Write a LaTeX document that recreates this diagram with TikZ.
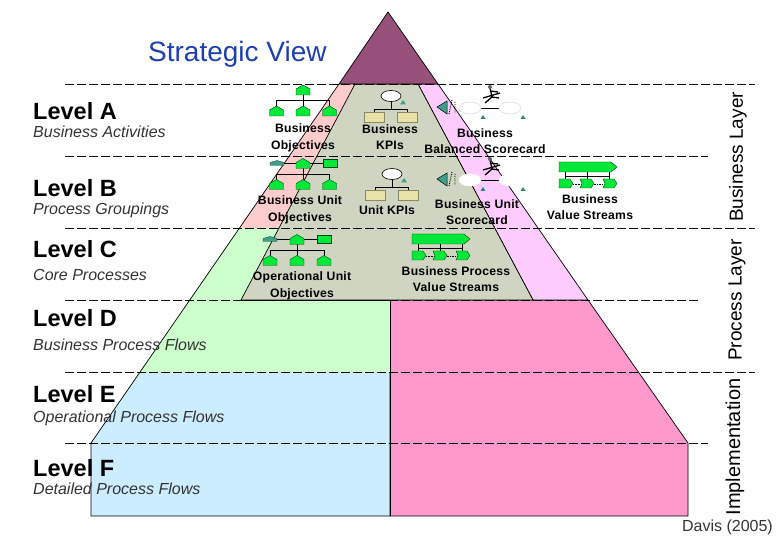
\documentclass[tikz,border=0pt]{standalone}
\usepackage{fontspec}
\setmainfont{Liberation Sans}
\usetikzlibrary{positioning}
\definecolor{topPurple}{HTML}{96507A}
\definecolor{coreGray}{HTML}{CFD5C0}
\definecolor{leftPink}{HTML}{FFCCCC}
\definecolor{rightViolet}{HTML}{FFCCFF}
\definecolor{midGreen}{HTML}{CCFFCC}
\definecolor{lowBlue}{HTML}{CCECFF}
\definecolor{hotPink}{HTML}{FF99CC}
\definecolor{viewBlue}{HTML}{1F3FB0}
\definecolor{iconGreen}{HTML}{00E838}
\definecolor{iconTan}{HTML}{E6E2A8}
\definecolor{iconTeal}{HTML}{3FA08A}
\tikzset{
	band/.style={draw=black, line width=0.7pt},
	sep/.style={line width=0.9pt, dash pattern=on 8.5pt off 3.5pt},
	levelname/.style={anchor=west, inner sep=0pt, font=\fontsize{23.5}{26}\selectfont\bfseries},
	levelnote/.style={anchor=base west, inner sep=0pt, text=black!80, font=\fontsize{16}{18}\selectfont\itshape},
	labe/.style={align=center, inner sep=0pt, font=\fontsize{12.2}{16.5}\selectfont\bfseries\addfontfeature{LetterSpace=2}},
	sidelabe/.style={rotate=90, inner sep=0pt, font=\fontsize{19}{22}\selectfont},
	iconline/.style={draw=black, line width=0.7pt},
	hutbox/.style={fill=iconGreen, draw=black!70!iconGreen, line width=0.4pt},
	pics/hut/.style={code={
		\path[hutbox] (-7,5) -- (-7,-1) -- (0,-5) -- (7,-1) -- (7,5) -- cycle;
	}},
	pics/orgtree/.style={code={
		\draw[iconline] (0,0) -- (0,10.5) (-#1,17) -- (-#1,10.5) -- (#1,10.5) -- (#1,17) (0,10.5) -- (0,17);
		\pic at (0,0) {hut};
		\pic at (-#1,21) {hut};
		\pic at (0,21) {hut};
		\pic at (#1,21) {hut};
	}},
	pics/orgside/.style={code={
		\draw[iconline] (-20,0) -- (20,0);
		\path[fill=iconTeal, draw=black!60!iconTeal, line width=0.3pt] (-#1-7,2) -- (-#1-7,-1) -- (-#1,-3) -- (-#1+7,-1) -- (-#1+7,2) -- cycle;
		\path[hutbox] (20,-4) rectangle (34,4);
	}},
	pics/kpitree/.style={code={
		\draw[iconline] (0,5) -- (0,13) (-17,16) -- (-17,13) -- (16,13) -- (16,16);
		\path[fill=white, draw=black, line width=0.6pt] (0,0) ellipse (10 and 5.5);
		\path[fill=iconTan, draw=black!40!iconTan, line width=0.4pt] (-27,16) rectangle (-7,26) (6,16) rectangle (26,26);
		\path[fill=iconTeal] (12,4) -- (15,8.5) -- (9,8.5) -- cycle;
	}},
	pics/scorecard/.style={code={
		\path[fill=iconTeal, draw=black, line width=0.5pt] (-10,0) -- (0,-6) -- (0,7) -- cycle;
		\draw[line width=0.9pt, densely dotted] (5,-7) -- (2,7) (8,-5) -- (8,6);
		\draw[iconline] (33,1) -- (53,1);
		\path[fill=white, draw=#1, line width=0.5pt] (23,1) ellipse (11 and 6) (63,1) ellipse (11 and 6);
		\draw[line width=1.3pt] (43,-19) -- (45,-10) -- (38,-4) (45,-10) -- (52,-9) (36,-9) -- (53,-14) (43,-16) -- (51,-15);
		\path[fill=black!60] (43,-20) circle (2);
		\path[fill=iconTeal!80!black] (36,8) -- (38.5,12) -- (33.5,12) -- cycle (76,8) -- (78.5,12) -- (73.5,12) -- cycle;
	}},
	pics/valuestream/.style={code={
		\draw[iconline] (6,10) -- (6,14) (28,10) -- (28,14) (50,10) -- (50,14) (6,14) -- (50,14) (6,14) -- (6,17) (28,14) -- (28,17) (50,14) -- (50,17);
		\path[hutbox] (0,0) -- (52,0) -- (58,5) -- (52,10) -- (0,10) -- cycle;
		\draw[line width=0.6pt, densely dotted] (14,22) -- (44,22);
		\path[hutbox] (0,17) -- (11,17) -- (14,21.5) -- (11,26) -- (0,26) -- cycle;
		\path[hutbox] (21,17) -- (32,17) -- (35,21.5) -- (32,26) -- (21,26) -- (23,21.5) -- cycle;
		\path[hutbox] (44,17) -- (55,17) -- (58,21.5) -- (55,26) -- (44,26) -- (46,21.5) -- cycle;
	}}
}

\begin{document}
\begin{tikzpicture}[x=1pt,y=-1pt]
\useasboundingbox (0,0) rectangle (780,540);

% pyramid, bottom up
\path[fill=lowBlue] (140,372) -- (390,372) -- (390,516) -- (91,516) -- (91,443) -- cycle;
\path[band,fill=hotPink] (390,300) -- (588,300) -- (688,443) -- (688,516) -- (390,516) -- cycle;
\path[fill=midGreen] (239,228) -- (279,228) -- (241,300) -- (390,300) -- (390,372) -- (140,372) -- cycle;
\path[fill=leftPink] (239,228) -- (339,84) -- (355,84) -- (279,228) -- cycle;
\draw[band] (339,84) -- (91,443) -- (91,516) -- (390,516);
\draw[band] (241,300) -- (390,300) -- (390,516);
\path[band,fill=rightViolet] (418,84) -- (438,84) -- (588,300) -- (533,300) -- cycle;
\path[band,fill=coreGray] (355,84) -- (418,84) -- (533,300) -- (241,300) -- cycle;
\path[band,fill=topPurple] (388,12) -- (438,84) -- (339,84) -- cycle;

% level separators
\foreach \ya/\xe in {84/755,156/708,228/755,300/700,372/755,443/708}
	\draw[sep] (65,\ya) -- (\xe,\ya);

\node(view)[anchor=west,inner sep=0pt,text=viewBlue,font=\fontsize{28}{30}\selectfont] at (148,54.5) {Strategic View};

\node(la)[levelname] at (33,111) {Level A};
\node(na)[levelnote] at (33,137.5) {Business Activities};
\node(lb)[levelname] at (33,188) {Level B};
\node(nb)[levelnote] at (33,214.5) {Process Groupings};
\node(lc)[levelname] at (33,249) {Level C};
\node(nc)[levelnote] at (33,280.5) {Core Processes};
\node(ld)[levelname] at (33,318) {Level D};
\node(nd)[levelnote] at (33,350.5) {Business Process Flows};
\node(le)[levelname] at (33,394) {Level E};
\node(ne)[levelnote] at (33,422.5) {Operational Process Flows};
\node(lf)[levelname] at (33,468) {Level F};
\node(nf)[levelnote] at (33,494.5) {Detailed Process Flows};

% icons
\pic at (303,90) {orgtree=26.5};
\pic at (303,163.5) {orgside=26};
\pic at (303,163.5) {orgtree=26.5};
\pic at (297,239.5) {orgside=27};
\pic at (297,239.5) {orgtree=27};
\pic at (391,96) {kpitree};
\pic at (392,174) {kpitree};
\pic at (447,107) {scorecard=black!15};
\pic at (447,179) {scorecard=white};
\pic at (559,162) {valuestream};
\pic at (412,234) {valuestream};

\node(bo)[labe] at (303,138) {Business\\Objectives};
\node(bk)[labe] at (390,137) {Business\\KPIs};
\node(bs)[labe] at (485,141) {Business\\Balanced Scorecard};
\node(uo)[labe] at (300,210) {Business Unit\\Objectives};
\node(uk)[labe] at (387,210) {Unit KPIs};
\node(us)[labe] at (477,212) {Business Unit\\Scorecard};
\node(vs)[labe] at (590,207) {Business\\Value Streams};
\node(oo)[labe] at (302,286) {Operational Unit\\Objectives};
\node(pv)[labe] at (456,279) {Business Process\\Value Streams};

\node(bl)[sidelabe] at (738,157) {Business Layer};
\node(pl)[sidelabe] at (737,300) {Process Layer};
\node(il)[sidelabe,font=\fontsize{20}{22}\selectfont] at (735,447) {Implementation};
\node(src)[anchor=east,inner sep=0pt,text=black!80,font=\fontsize{16}{18}\selectfont] at (773,527) {Davis (2005)};
\end{tikzpicture}
\end{document}
